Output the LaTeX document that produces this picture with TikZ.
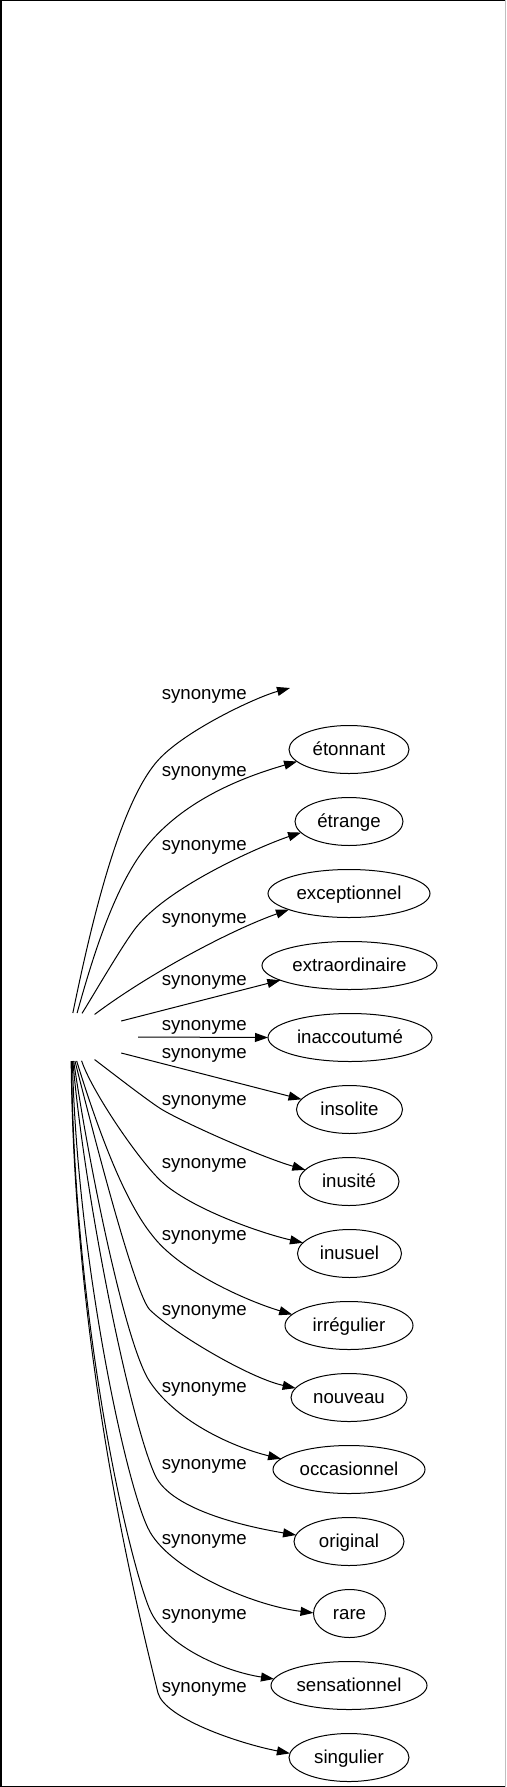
\documentclass[tikz,border=0pt]{standalone}
\usepackage{fontspec}
\setmainfont{Liberation Sans}
\usetikzlibrary{arrows.meta,shapes.geometric}
\begin{document}
\begin{tikzpicture}[x=1pt,y=-1pt,
  word/.style={ellipse, draw, line width=1pt, minimum height=48pt, inner sep=0pt, outer sep=0pt,
    text height=13.5pt, text depth=2.5pt, font=\fontsize{18.67}{22}\selectfont},
  lbl/.style={inner sep=0pt, text height=13.5pt, text depth=2.5pt, font=\fontsize{18.67}{22}\selectfont},
  syn/.style={line width=1pt, -{Triangle[length=13pt,width=9pt]}}
]
\useasboundingbox (0,0) rectangle (506,1787);
% frame
\draw[line width=1.5pt] (0.75,1787) -- (0.75,0.75) -- (506,0.75);
\draw[line width=1pt] (0,1786.5) -- (506,1786.5);
\draw[line width=1pt, black!25] (505.5,0) -- (505.5,1787);

% source (empty) node
\node[ellipse, minimum width=132pt, minimum height=48pt, inner sep=0pt, outer sep=0pt] (src) at (72,1037) {};
\coordinate (t0) at (290,688);

% targets
\node[word, minimum width=120pt] (n1)  at (349,749.5)  {étonnant};
\node[word, minimum width=108pt] (n2)  at (349,821.5)  {étrange};
\node[word, minimum width=162pt] (n3)  at (349,893.5)  {exceptionnel};
\node[word, minimum width=175pt] (n4)  at (349.5,965.5)  {extraordinaire};
\node[word, minimum width=164pt] (n5)  at (350,1037.5) {inaccoutumé};
\node[word, minimum width=106pt] (n6)  at (349.5,1109.5) {insolite};
\node[word, minimum width=100pt] (n7)  at (349,1181.5) {inusité};
\node[word, minimum width=104pt] (n8)  at (349.5,1253.5) {inusuel};
\node[word, minimum width=128pt] (n9)  at (349,1325.5) {irrégulier};
\node[word, minimum width=116pt] (n10) at (349,1397.5) {nouveau};
\node[word, minimum width=152pt] (n11) at (349,1469.5) {occasionnel};
\node[word, minimum width=110pt] (n12) at (349,1541.5) {original};
\node[word, minimum width=72pt]  (n13) at (349.5,1613.5) {rare};
\node[word, minimum width=156pt] (n14) at (349,1685.5) {sensationnel};
\node[word, minimum width=120pt] (n15) at (349,1757.5) {singulier};

% edges
\draw[syn] (src.88) .. controls (89,934.6) and (117.9,804.4) .. (158.3,760)
  .. controls (185.2,730.4) and (256.2,697.1) .. (t0);
\draw[syn] (src.78) .. controls (90.5,965) and (109.4,901.9) .. (136.7,860)
  .. controls (175,801.4) and (245.2,776.5) .. (n1.193);
\draw[syn] (src.67) .. controls (93,995.8) and (124.1,942.2) .. (136.7,926.7)
  .. controls (171.4,884) and (266,844) .. (n2.193);
\draw[syn] (src.45) .. controls (150.5,972.5) and (232.5,929.4) .. (n3.195);
\draw[syn] (src.18) -- (n4.192);
\draw[syn] (src.0) -- (n5.180);
\draw[syn] (src.342) -- (n6.168);
\draw[syn] (src.315) .. controls (109,1070.5) and (145,1098.5) .. (160,1108.3)
  .. controls (180,1121) and (260,1156.7) .. (n7.165);
\draw[syn] (src.292) .. controls (92,1092) and (140,1162) .. (162,1182)
  .. controls (191.6,1208.8) and (260,1232.9) .. (n8.167);
\draw[syn] (src.281) .. controls (95,1120) and (122,1198) .. (152,1235)
  .. controls (179,1271) and (247,1301) .. (n9.169);
\draw[syn] (src.277) .. controls (95,1140) and (135,1295) .. (150,1310)
  .. controls (175.2,1334.2) and (250,1378.2) .. (n10.170);
\draw[syn] (src.274) .. controls (88,1160) and (125,1345) .. (150,1382)
  .. controls (178,1423.5) and (237,1448.25) .. (n11.171);
\draw[syn] (src.272) .. controls (85,1200) and (130,1420) .. (155,1475)
  .. controls (171.4,1511.4) and (253,1527.8) .. (n12.173);
\draw[syn] (src.271) .. controls (77,1260) and (127.5,1493) .. (150,1532)
  .. controls (172.5,1571) and (253,1605.5) .. (n13.179);
\draw[syn] (src.269) .. controls (74,1330) and (130,1564) .. (150,1610)
  .. controls (166,1646.8) and (225,1671.5) .. (n14.175);
\draw[syn] (src.268) .. controls (74,1350) and (134,1596) .. (158,1693)
  .. controls (165,1718) and (237,1743) .. (n15.176);

% labels
\node[lbl] (l0)  at (204.3,694.2)  {synonyme};
\node[lbl] (l1)  at (204.3,770.7)  {synonyme};
\node[lbl] (l2)  at (204.3,845.2)  {synonyme};
\node[lbl] (l3)  at (204.3,918.2)  {synonyme};
\node[lbl] (l4)  at (204.3,979.8)  {synonyme};
\node[lbl] (l5)  at (204.3,1024.5) {synonyme};
\node[lbl] (l6)  at (204.3,1053)   {synonyme};
\node[lbl] (l7)  at (204.3,1099.7) {synonyme};
\node[lbl] (l8)  at (204.3,1162.5) {synonyme};
\node[lbl] (l9)  at (204.3,1235.2) {synonyme};
\node[lbl] (l10) at (204.3,1310.2) {synonyme};
\node[lbl] (l11) at (204.3,1386.5) {synonyme};
\node[lbl] (l12) at (204.3,1463.5) {synonyme};
\node[lbl] (l13) at (204.3,1539.2) {synonyme};
\node[lbl] (l14) at (204.3,1613.5) {synonyme};
\node[lbl] (l15) at (204.3,1686.5) {synonyme};
\end{tikzpicture}
\end{document}
